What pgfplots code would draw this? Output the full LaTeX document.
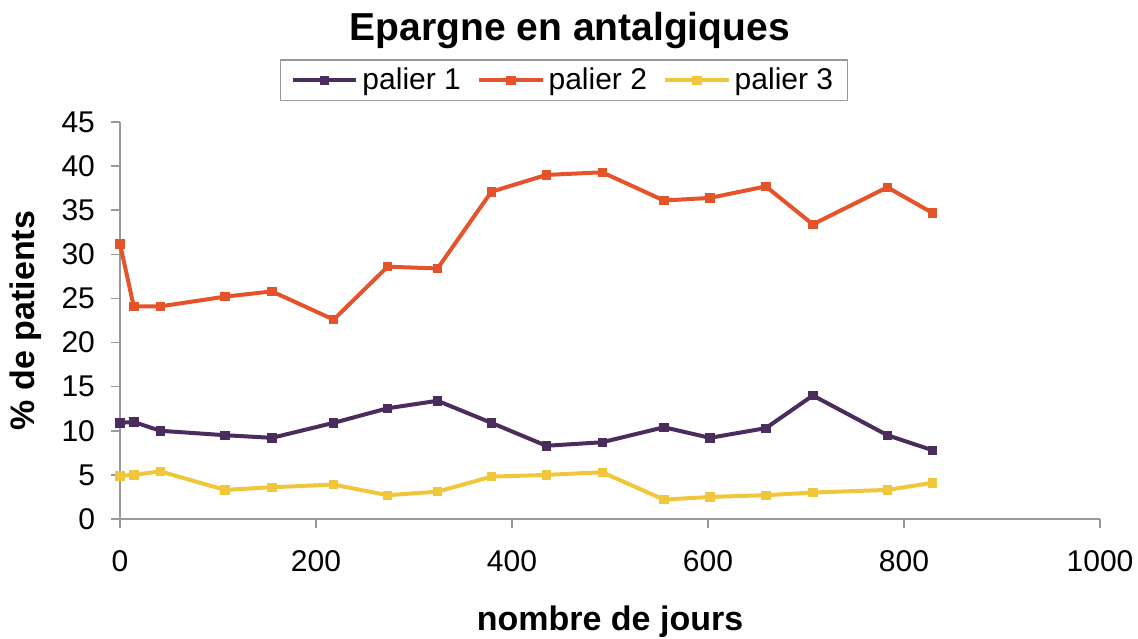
\documentclass[border=0pt]{standalone}
\usepackage{pgfplots}
\pgfplotsset{compat=1.18}
\usepackage{fontspec}
\setmainfont{Liberation Sans}
\definecolor{pal1}{HTML}{4A2D5C}
\definecolor{pal2}{HTML}{E5532B}
\definecolor{pal3}{HTML}{F0C63A}
\definecolor{axgray}{HTML}{999999}
\begin{document}
\begin{tikzpicture}
\useasboundingbox (0,0) rectangle (569pt,319pt);
\begin{axis}[
  at={(60pt,59.5pt)}, anchor=south west,
  scale only axis, width=490pt, height=198.5pt,
  xmin=0, xmax=1000, ymin=0, ymax=45,
  xtick={0,200,...,1000}, ytick={0,5,...,45},
  axis x line*=bottom, axis y line*=left,
  axis line style={axgray, line width=0.8pt},
  tick style={axgray, line width=0.8pt},
  tick align=outside, major tick length=4.5pt,
  x axis line style={-}, y axis line style={-},
  /pgf/number format/assume math mode=true,
  /pgf/number format/1000 sep={},
  tick label style={font=\fontsize{15}{17}\selectfont},
  xticklabel style={yshift=-7.5pt},
  yticklabel style={xshift=-4.5pt},
  xlabel={\textbf{nombre de jours}},
  ylabel={\textbf{\% de patients}},
  label style={font=\fontsize{17}{19}\selectfont},
  xlabel style={at={(axis description cs:0.5,-0.259)}, anchor=center},
  ylabel style={at={(axis description cs:-0.096,0.5)}, anchor=center, rotate=0},
  title={\textbf{Epargne en antalgiques}},
  title style={at={(axis description cs:0.459,1.174)}, anchor=base, font=\fontsize{19.5}{22}\selectfont},
  legend columns=3,
  legend style={at={(axis description cs:0.453,1.105)}, anchor=center, draw=axgray, line width=0.6pt,
    font=\fontsize{15}{17}\selectfont, inner xsep=5pt, inner ysep=2pt,
    /tikz/every even column/.append style={column sep=6pt}},
  legend image code/.code={\draw[mark repeat=2,mark phase=2,#1] plot coordinates {(0cm,0cm) (0.56cm,0cm) (1.12cm,0cm)};},
  every axis plot/.append style={line width=2pt, mark=square*, mark size=2.1pt, mark options={solid, line width=0.4pt}},
  clip=false,
]
\addplot[color=pal1] coordinates {
(0,10.9) (14,11.0) (41,10.0) (107,9.5) (155,9.2) (218,10.9) (273,12.55) (324,13.4) (379,10.9) (435,8.3) (492,8.7) (555,10.4) (602,9.2) (659,10.3) (707,14.0) (783,9.5) (829,7.8)};
\addlegendentry{palier 1}
\addplot[color=pal2] coordinates {
(0,31.2) (14,24.1) (41,24.1) (107,25.2) (155,25.8) (218,22.6) (273,28.6) (324,28.4) (379,37.1) (435,39.0) (492,39.3) (555,36.1) (602,36.4) (659,37.7) (707,33.4) (783,37.6) (829,34.7)};
\addlegendentry{palier 2}
\addplot[color=pal3] coordinates {
(0,4.9) (14,5.0) (41,5.4) (107,3.3) (155,3.6) (218,3.9) (273,2.7) (324,3.1) (379,4.8) (435,5.0) (492,5.3) (555,2.2) (602,2.5) (659,2.7) (707,3.0) (783,3.3) (829,4.1)};
\addlegendentry{palier 3}
\end{axis}
\end{tikzpicture}
\end{document}
